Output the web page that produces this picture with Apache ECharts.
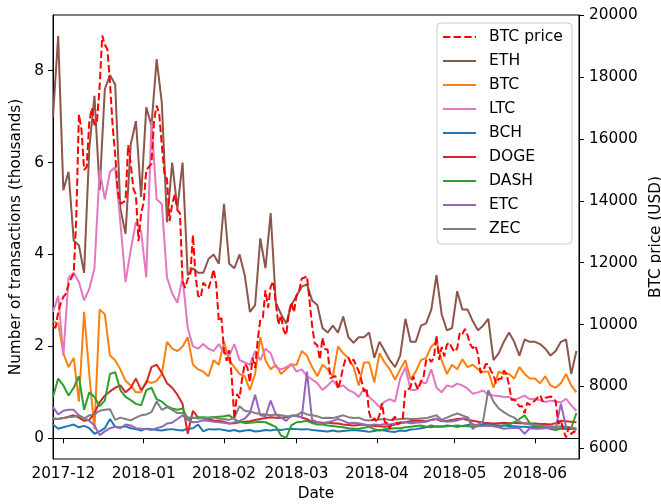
<!DOCTYPE html>
<html><head><meta charset="utf-8">
<script src="https://cdn.jsdelivr.net/npm/echarts@6/dist/echarts.min.js"></script>
<style>html,body{margin:0;padding:0;background:#fff}#c{width:661px;height:504px}</style>
</head><body><div id="c"></div>
<script>
// ---- data ----
const startDateUTC = [2017, 10, 27];   // 2017-11-27, daily categories
const dayCount = 204;                  // through 2018-06-18

// BTC price (USD), daily
const btcPrice = [
  9930, 9900, 10400, 10700,
  10900, 11000, 11300, 11500, 11650, 13500, 16800, 16300, 15000, 15100,
  16550, 17000, 16450, 16600, 17700, 19345, 19050, 18900, 17800, 16450,
  15500, 14300, 13900, 13950, 14000, 15800, 15200, 14400, 14200, 12700, 13600,
  13950, 15000, 15100, 15200, 16600, 17080, 16800, 15800, 14900, 14700,
  13350, 13900, 14200, 13700, 13600, 11400, 11188, 11474, 11607, 12899,
  11600, 10931, 10868, 11360, 11259, 11171, 11441, 11787, 11296, 10107, 10221,
  9171, 8831, 9175, 8277, 6955, 7754, 7622, 8265, 8736, 8621,
  8129, 8926, 8598, 9494, 10166, 10233, 11112, 10551, 11225, 11403,
  10690, 10005, 10301, 9813, 9664, 10366, 10725, 10397,
  10951, 11086, 11489, 11513, 11573, 10780, 9965, 9395, 9337, 8866,
  9578, 9205, 9194, 8270, 8300, 8338, 7916, 8223, 8630, 8913,
  8929, 8729, 8879, 8669, 8495, 8210, 7834, 7954, 7165, 6891, 6974,
  6845, 7083, 7457, 6854, 6812, 6636, 6912, 7024, 6771, 6835,
  6968, 7890, 7895, 7986, 8330, 8058, 7903, 8164, 8295, 8846,
  8917, 8794, 8938, 9650, 8865, 9279, 8979, 9348, 9419, 9240,
  9120, 9235, 9744, 9700, 9858, 9654, 9373, 9234, 9325, 9044,
  8441, 8504, 8723, 8716, 8510, 8368, 8094, 8250, 8247, 8513,
  8418, 8041, 7557, 7587, 7480, 7355, 7368, 7135, 7472, 7406, 7494,
  7541, 7643, 7720, 7514, 7633, 7653, 7678, 7624, 7531, 6786,
  6906, 6582, 6349, 6675, 6456, 6550, 6499, 6520
];

// Transactions (thousands), one value every 2 days from 2017-11-27
const eth = [
  7.0, 8.75, 5.4, 5.8, 4.3, 4.2, 3.6, 6.3, 7.45, 5.4,
  7.6, 7.9, 7.7, 5.0, 4.45, 6.4, 6.9, 5.25, 7.2, 6.8,
  8.25, 7.3, 4.7, 6.0, 5.0, 6.0, 3.55, 3.7, 3.6, 3.6,
  3.9, 4.0, 3.8, 5.1, 3.8, 3.7, 4.0, 3.55, 2.75, 2.9,
  4.35, 3.7, 4.9, 2.95, 2.7, 2.5, 2.9, 3.1, 3.3, 3.35,
  3.0, 2.9, 2.4, 2.3, 2.45, 2.3, 2.65, 2.2, 2.08, 2.2,
  2.2, 2.3, 1.75, 2.1, 1.9, 1.7, 1.55, 1.8, 2.6, 2.1,
  2.1, 2.45, 2.5, 2.8, 3.55, 2.7, 2.35, 2.4, 3.2, 2.8,
  2.8, 2.55, 2.35, 2.45, 2.6, 1.7, 1.85, 2.1, 2.3, 2.1,
  1.8, 2.15, 2.1, 2.1, 2.05, 1.95, 1.8, 1.9, 2.1, 2.15,
  1.4, 1.9
];
const btc = [
  2.55, 2.5, 1.85, 1.55, 1.75, 0.8, 2.75, 1.4, 0.2, 2.8,
  2.7, 1.8, 1.7, 1.5, 1.25, 1.15, 1.0, 1.0, 1.25, 1.2,
  1.25, 1.4, 2.1, 1.95, 1.9, 2.0, 2.2, 1.6, 1.5, 1.45,
  1.35, 1.7, 1.6, 2.1, 1.7, 1.55, 1.4, 1.35, 1.05, 1.4,
  2.2, 1.7, 1.5, 1.6, 1.4, 1.5, 1.6, 1.6, 1.9, 1.8,
  1.55, 1.35, 1.6, 1.5, 1.35, 2.0, 1.85, 1.75, 1.55, 1.15,
  1.65, 1.65, 1.22, 1.85, 1.65, 1.5, 1.28, 1.5, 1.7, 1.28,
  1.45, 1.7, 1.75, 2.0, 2.1, 1.7, 1.4, 1.6, 1.5, 1.72,
  1.55, 1.6, 1.5, 1.45, 1.45, 1.1, 1.45, 1.4, 1.4, 1.3,
  1.55, 1.4, 1.3, 1.3, 1.2, 1.35, 1.15, 1.1, 1.2, 1.4,
  1.15, 1.0
];
const ltc = [
  2.75, 3.1, 1.8, 3.5, 3.6, 3.4, 3.0, 3.25, 3.7, 5.85,
  5.2, 5.8, 5.9, 4.7, 3.4, 4.1, 4.7, 4.5, 3.5, 6.9,
  5.2, 5.1, 3.5, 3.15, 2.95, 3.5, 2.4, 2.0, 1.95, 2.05,
  1.95, 1.9, 2.05, 1.85, 1.8, 2.05, 1.7, 1.65, 1.6, 1.9,
  1.7, 1.95, 1.85, 1.55, 1.5, 1.55, 1.62, 1.45, 1.5, 1.35,
  1.28, 1.2, 1.05, 1.15, 1.26, 1.12, 1.15, 1.05, 1.0, 0.9,
  1.08, 0.9, 0.8, 0.68, 0.8, 0.85, 0.8, 1.3, 1.55, 1.05,
  1.05, 1.22, 1.2, 1.5, 1.1, 1.0, 1.15, 1.12, 1.19, 1.15,
  1.08, 0.97, 1.0, 1.04, 0.95, 0.93, 0.92, 0.9, 0.9, 0.83,
  0.88, 0.93, 0.85, 0.86, 0.83, 0.79, 0.82, 0.8, 0.78, 0.86,
  0.72, 0.6
];
const bch = [
  0.3, 0.21, 0.24, 0.27, 0.3, 0.24, 0.27, 0.22, 0.1, 0.15,
  0.22, 0.42, 0.25, 0.24, 0.26, 0.22, 0.2, 0.17, 0.21, 0.2,
  0.18, 0.17, 0.19, 0.2, 0.18, 0.17, 0.21, 0.22, 0.3, 0.15,
  0.2, 0.19, 0.2, 0.18, 0.16, 0.18, 0.15, 0.17, 0.18, 0.15,
  0.16, 0.18, 0.17, 0.19, 0.18, 0.2, 0.21, 0.2, 0.19, 0.2,
  0.18, 0.17, 0.16, 0.15, 0.17, 0.15, 0.16, 0.17, 0.18, 0.17,
  0.16, 0.14, 0.16, 0.18, 0.17, 0.15, 0.14, 0.17, 0.16, 0.19,
  0.2, 0.22, 0.24, 0.28, 0.25, 0.26, 0.28, 0.27, 0.25, 0.27,
  0.29, 0.3, 0.28, 0.3, 0.32, 0.3, 0.28, 0.28, 0.27, 0.26,
  0.25, 0.25, 0.24, 0.25, 0.24, 0.23, 0.22, 0.21, 0.22, 0.2,
  0.21, 0.2
];
const doge = [
  0.43, 0.42, 0.44, 0.47, 0.5, 0.45, 0.38, 0.4, 0.55, 0.78,
  0.93, 1.02, 1.1, 1.15, 1.0, 1.1, 1.3, 1.05, 1.2, 1.55,
  1.6, 1.42, 1.2, 1.1, 0.95, 0.75, 0.1, 0.6, 0.45, 0.43,
  0.42, 0.39, 0.38, 0.36, 0.32, 0.33, 0.35, 0.36, 0.37, 0.4,
  0.42, 0.44, 0.46, 0.45, 0.44, 0.46, 0.48, 0.5, 0.45, 0.42,
  0.36, 0.35, 0.34, 0.34, 0.33, 0.32, 0.3, 0.29, 0.28, 0.29,
  0.3, 0.28, 0.27, 0.26, 0.25, 0.27, 0.3, 0.33, 0.35, 0.37,
  0.39, 0.38, 0.37, 0.4, 0.42, 0.37, 0.38, 0.4, 0.42, 0.43,
  0.4, 0.38, 0.36, 0.34, 0.33, 0.32, 0.33, 0.34, 0.33, 0.34,
  0.33, 0.33, 0.32, 0.32, 0.31, 0.31, 0.3, 0.33, 0.38, 0.37,
  0.36, 0.35
];
const dash = [
  0.9, 1.3, 1.15, 0.93, 1.1, 1.35, 0.62, 1.0, 0.9, 0.7,
  0.82, 1.4, 1.44, 1.05, 0.9, 0.83, 0.75, 0.72, 1.05, 1.1,
  0.85, 0.8, 0.7, 0.65, 0.62, 0.65, 0.42, 0.44, 0.46, 0.46,
  0.45, 0.46, 0.47, 0.48, 0.5, 0.42, 0.36, 0.33, 0.34, 0.35,
  0.36, 0.35, 0.3, 0.25, 0.06, 0.01, 0.28, 0.35, 0.36, 0.38,
  0.33, 0.3, 0.3, 0.28, 0.27, 0.25, 0.24, 0.22, 0.21, 0.21,
  0.23, 0.25, 0.2, 0.17, 0.2, 0.21, 0.22, 0.22, 0.24, 0.25,
  0.27, 0.28, 0.25, 0.24, 0.26, 0.25, 0.26, 0.27, 0.28, 0.27,
  0.26, 0.25, 0.26, 0.27, 0.28, 0.27, 0.26, 0.28, 0.3, 0.35,
  0.42, 0.5, 0.33, 0.27, 0.25, 0.24, 0.2, 0.18, 0.22, 0.25,
  0.22, 0.55
];
const etc = [
  0.68, 0.52, 0.6, 0.62, 0.62, 0.5, 0.44, 0.38, 0.28, 0.07,
  0.15, 0.22, 0.25, 0.22, 0.3, 0.28, 0.22, 0.21, 0.2, 0.18,
  0.22, 0.25, 0.32, 0.34, 0.42, 0.5, 0.4, 0.35, 0.36, 0.39,
  0.38, 0.36, 0.35, 0.34, 0.32, 0.35, 0.38, 0.43, 0.55, 0.95,
  0.5, 0.48, 0.82, 0.52, 0.45, 0.38, 0.5, 0.48, 0.46, 1.45,
  0.4, 0.35, 0.32, 0.35, 0.38, 0.42, 0.38, 0.33, 0.34, 0.33,
  0.3, 0.28, 0.3, 0.29, 0.31, 0.3, 0.32, 0.34, 0.35, 0.33,
  0.34, 0.35, 0.36, 0.4, 0.43, 0.38, 0.36, 0.37, 0.39, 0.42,
  0.46, 0.3, 0.28, 0.27, 0.27, 0.26, 0.24, 0.21, 0.22, 0.23,
  0.22, 0.1, 0.22, 0.21, 0.21, 0.22, 0.23, 0.22, 0.75, 0.25,
  0.22, 0.18
];
const zec = [
  0.43, 0.42, 0.44, 0.46, 0.47, 0.5, 0.43, 0.5, 0.52, 0.6,
  0.62, 0.63, 0.4, 0.45, 0.42, 0.39, 0.45, 0.5, 0.52, 0.57,
  0.8, 0.62, 0.68, 0.62, 0.55, 0.55, 0.46, 0.45, 0.43, 0.44,
  0.45, 0.46, 0.43, 0.42, 0.4, 0.45, 0.7, 0.6, 0.58, 0.55,
  0.53, 0.52, 0.5, 0.52, 0.5, 0.48, 0.48, 0.5, 0.57, 0.52,
  0.5, 0.48, 0.44, 0.45, 0.44, 0.47, 0.5, 0.46, 0.44, 0.45,
  0.4, 0.39, 0.4, 0.41, 0.42, 0.4, 0.41, 0.42, 0.43, 0.42,
  0.42, 0.43, 0.44, 0.47, 0.5, 0.4, 0.45, 0.5, 0.54, 0.5,
  0.45, 0.2, 0.3, 0.38, 1.05, 0.8, 0.65, 0.57, 0.5, 0.45,
  0.36, 0.32, 0.3, 0.29, 0.28, 0.27, 0.26, 0.25, 0.26, 0.25,
  0.23, 0.22
];

const leftTicks = [0, 2, 4, 6, 8];
const rightTicks = [6000, 8000, 10000, 12000, 14000, 16000, 18000, 20000];
const legendOrder = ['BTC price', 'ETH', 'BTC', 'LTC', 'BCH', 'DOGE', 'DASH', 'ETC', 'ZEC'];

// ---- build ----
const dates = [];
(function () {
  const t0 = Date.UTC(startDateUTC[0], startDateUTC[1], startDateUTC[2]);
  for (let i = 0; i < dayCount; i++) dates.push(new Date(t0 + i * 86400000).toISOString().slice(0, 10));
})();
const every2 = arr => arr.map((v, k) => [2 * k, v]);
const isMonthStart = (idx, val) => String(val).slice(8) === '01';

const FONT = 'DejaVu Sans';
const FS = 15.3;
const txt = { fontFamily: FONT, fontSize: FS, color: '#000' };

const tx = [
  ['ETH', eth, '#8c564b'],
  ['BTC', btc, '#ff7f0e'],
  ['LTC', ltc, '#e377c2'],
  ['BCH', bch, '#1f77b4'],
  ['DOGE', doge, '#d62728'],
  ['DASH', dash, '#2ca02c'],
  ['ETC', etc, '#9467bd'],
  ['ZEC', zec, '#7f7f7f']
];

const series = tx.map(([name, vals, color], i) => ({
  name, type: 'line', xAxisIndex: 0, yAxisIndex: 0,
  data: every2(vals), symbol: 'none', showSymbol: false,
  lineStyle: { color, width: 2 }, itemStyle: { color }, z: 2 + i * 0.01
}));
series.push({
  name: 'BTC price', type: 'line', xAxisIndex: 0, yAxisIndex: 1,
  data: btcPrice, symbol: 'none', showSymbol: false,
  lineStyle: { color: '#ff0000', width: 2, type: [7.4, 3.2] },
  itemStyle: { color: '#ff0000' }, z: 3
});

const axisLineStyle = { color: '#000', width: 1 };
const chart = echarts.init(document.getElementById('c'), null, { renderer: 'canvas' });
chart.setOption({
  animation: false,
  backgroundColor: '#fff',
  textStyle: { fontFamily: FONT },
  grid: { left: 53, right: 82, top: 15, bottom: 45, show: true, borderColor: '#000', borderWidth: 1, containLabel: false, outerBoundsMode: 'none' },
  legend: {
    data: legendOrder, orient: 'vertical', left: 437, top: 23,
    itemWidth: 33, itemHeight: 14, itemGap: 8,
    padding: [6, 9, 7, 5],
    backgroundColor: 'rgba(255,255,255,0.8)', borderColor: '#cccccc', borderWidth: 1, borderRadius: 4,
    itemStyle: { color: 'rgba(0,0,0,0)', borderColor: 'rgba(0,0,0,0)', borderWidth: 0, opacity: 0 },
    textStyle: Object.assign({}, txt, { fontSize: 15.6, padding: [0, 0, 0, 8], lineHeight: 14 })
  },
  xAxis: {
    type: 'category', data: dates, boundaryGap: false,
    axisLine: { show: true, lineStyle: axisLineStyle },
    axisTick: { show: true, interval: isMonthStart, length: 5, lineStyle: axisLineStyle },
    axisLabel: Object.assign({ interval: isMonthStart, formatter: v => v.slice(0, 7), margin: 8 }, txt),
    splitLine: { show: false },
    name: 'Date', nameLocation: 'middle', nameGap: 27, nameTextStyle: txt
  },
  yAxis: [
    {
      type: 'value', position: 'left', min: -0.45, max: 9.21,
      axisLine: { show: true, lineStyle: axisLineStyle },
      axisTick: { show: true, length: 5, customValues: leftTicks, lineStyle: axisLineStyle },
      axisLabel: Object.assign({ customValues: leftTicks, margin: 9, formatter: v => String(v) }, txt),
      splitLine: { show: false },
      name: 'Number of transactions (thousands)', nameLocation: 'middle', nameRotate: 90, nameGap: 29, nameTextStyle: txt
    },
    {
      type: 'value', position: 'right', min: 5655, max: 20010,
      axisLine: { show: true, lineStyle: axisLineStyle },
      axisTick: { show: true, length: 5, customValues: rightTicks, lineStyle: axisLineStyle },
      axisLabel: Object.assign({ customValues: rightTicks, margin: 10, formatter: v => String(v) }, txt),
      splitLine: { show: false },
      name: 'BTC price (USD)', nameLocation: 'middle', nameRotate: 90, nameGap: 63, nameTextStyle: txt
    }
  ],
  series
});
</script></body></html>
